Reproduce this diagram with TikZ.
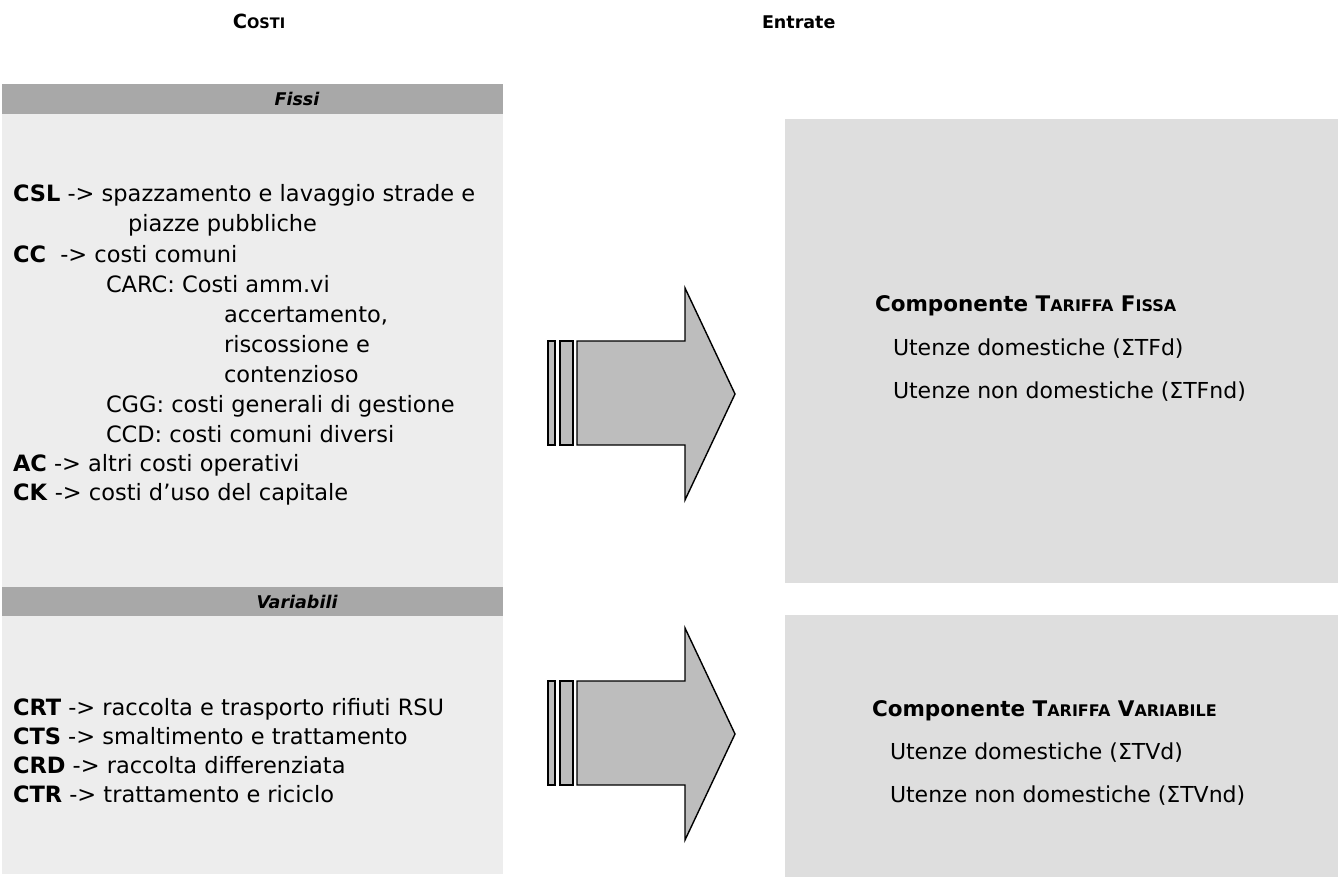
\documentclass[tikz,border=0pt]{standalone}
\usepackage{fontspec}
\setmainfont{DejaVu Sans}
\newcommand\smcap[2]{#1{\fontsize{16}{17}\selectfont #2}}
\newcommand\ttlcap[2]{#1{\fontsize{14.5}{15}\selectfont #2}}
\definecolor{barfill}{gray}{0.66}
\definecolor{leftfill}{gray}{0.93}
\definecolor{rightfill}{gray}{0.87}
\definecolor{arrowfill}{gray}{0.74}
\begin{document}
\begin{tikzpicture}[x=1pt,y=-1pt,
  every node/.style={inner sep=0pt,outer sep=0pt},
  txt/.style={anchor=base west,font=\fontsize{22.5}{26}\selectfont},
  rtxt/.style={anchor=base west,font=\fontsize{22}{26}\selectfont},
  rhead/.style={anchor=base west,font=\bfseries\fontsize{21.5}{26}\selectfont},
  ttl/.style={anchor=base,font=\bfseries\fontsize{19.5}{22}\selectfont},
  sect/.style={anchor=base,font=\bfseries\itshape\fontsize{17.5}{20}\selectfont},
  bar/.style={fill=barfill,draw=none},
  lbox/.style={fill=leftfill,draw=none},
  rbox/.style={fill=rightfill,draw=none},
  arr/.style={fill=arrowfill,draw=black,line width=1.4pt,line join=miter}]
\useasboundingbox (0,0) rectangle (1338,877);
\fill[white] (0,0) rectangle (1338,877);

% titles
\node[ttl] (costi) at (259,29) {\ttlcap{C}{OSTI}};
\node[ttl,anchor=base west,font=\bfseries\fontsize{17.5}{22}\selectfont] (entrate) at (762,29) {Entrate};

% left column
\fill[lbox] (2,114) rectangle (503,587);
\fill[lbox] (2,616) rectangle (503,874);
\fill[bar] (2,84) rectangle (503,114);
\fill[bar] (2,587) rectangle (503,616);
\node[sect] (fissi) at (297,106) {Fissi};
\node[sect] (variabili) at (297,608) {Variabili};

\node[txt] (csl) at (13,202) {\textbf{CSL} -> spazzamento e lavaggio strade e};
\node[txt] (csl2) at (128,232) {piazze pubbliche};
\node[txt] (cc) at (13,262) {\textbf{CC}\ \ -> costi comuni};
\node[txt] (carc) at (106,292) {CARC: Costi amm.vi};
\node[txt] (carc2) at (224,322) {accertamento,};
\node[txt] (carc3) at (224,352) {riscossione e};
\node[txt] (carc4) at (224,382) {contenzioso};
\node[txt] (cgg) at (106,412) {CGG: costi generali di gestione};
\node[txt] (ccd) at (106,442) {CCD: costi comuni diversi};
\node[txt] (ac) at (13,471) {\textbf{AC} -> altri costi operativi};
\node[txt] (ck) at (13,500) {\textbf{CK} -> costi d’uso del capitale};

\node[txt] (crt) at (13,715) {\textbf{CRT} -> raccolta e trasporto rifiuti RSU};
\node[txt] (cts) at (13,744) {\textbf{CTS} -> smaltimento e trattamento};
\node[txt] (crd) at (13,773) {\textbf{CRD} -> raccolta differenziata};
\node[txt] (ctr) at (13,802) {\textbf{CTR} -> trattamento e riciclo};

% arrows
\foreach \yo in {0,340}{
  \begin{scope}[yshift=-\yo pt]
  \draw[arr] (548,341) rectangle (555,445);
  \draw[arr] (560,341) rectangle (573,445);
  \draw[arr] (577,341) -- (685,341) -- (685,288) -- (735,394) -- (685,500) -- (685,445) -- (577,445) -- cycle;
  \end{scope}
}

% right boxes
\fill[rbox] (785,119) rectangle (1338,583);
\fill[rbox] (785,615) rectangle (1338,877);
\node[rhead] (tf) at (875,312) {Componente \smcap{T}{ARIFFA} \smcap{F}{ISSA}};
\node[rtxt] (tfd) at (893,355) {Utenze domestiche (ΣTFd)};
\node[rtxt] (tfnd) at (893,398) {Utenze non domestiche (ΣTFnd)};
\node[rhead] (tv) at (872,716) {Componente \smcap{T}{ARIFFA} \smcap{V}{ARIABILE}};
\node[rtxt] (tvd) at (890,759) {Utenze domestiche (ΣTVd)};
\node[rtxt] (tvnd) at (890,802) {Utenze non domestiche (ΣTVnd)};
\end{tikzpicture}
\end{document}
